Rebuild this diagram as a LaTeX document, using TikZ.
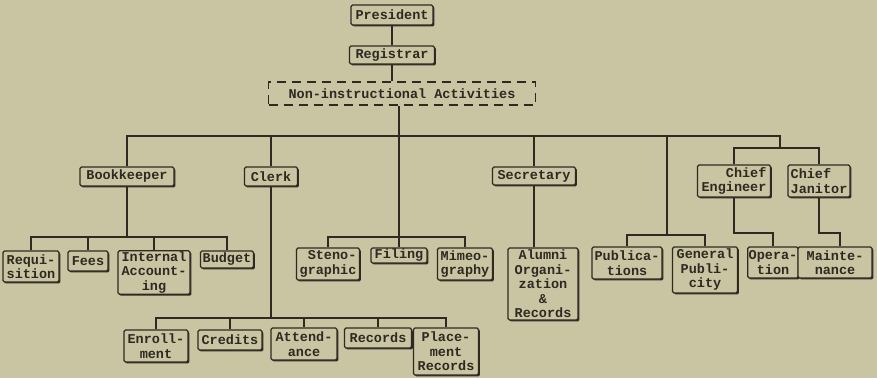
\documentclass[tikz,border=0pt]{standalone}
\usepackage{fontspec}
\setmainfont{Liberation Mono}
\usepackage{tikz}
\usepackage{xcolor}
\usetikzlibrary{shadows}
\definecolor{paper}{RGB}{201,196,162}
\definecolor{ink}{RGB}{46,42,34}

\begin{document}
\begin{tikzpicture}[x=1pt,y=-1pt,
		line width=2pt, draw=ink, text=ink,
		font=\bfseries\fontsize{13.5}{14.5}\selectfont,
		box/.style={draw=ink, line width=1.2pt, fill=paper, rounded corners=1.5pt, inner sep=1pt, align=center,
			drop shadow={shadow xshift=1.4pt, shadow yshift=-1.4pt, fill=ink, opacity=1}},
		dashbox/.style={draw=ink, line width=1.2pt, dash pattern=on 9pt off 6pt, inner sep=1pt}]
		\fill[paper] (0,0) rectangle (877,378);
		\useasboundingbox (0,0) rectangle (877,378);
		\coordinate (mainbus) at (0,136);
		\coordinate (chiefbus) at (0,148);
		\coordinate (opbus) at (0,233);
		\coordinate (pubbus) at (0,235);
		\coordinate (bkbus) at (0,237);
		\coordinate (stenobus) at (0,237);
		\coordinate (clerkbus) at (0,318);
		\coordinate (pubtop) at (667,136);
		\coordinate (chieftop) at (780,136);

		\node[box, minimum width=82pt, minimum height=20pt] (pres) at (392,15) {President};
		\node[box, minimum width=85pt, minimum height=18pt] (reg) at (392,55) {Registrar};
		\node[dashbox, minimum width=267pt, minimum height=23pt] (nonin) at (402,93.5) {Non-instructional Activities};

		\node[box, minimum width=94pt, minimum height=19pt] (bk) at (127,176.5) {Bookkeeper};
		\node[box, minimum width=53pt, minimum height=19pt] (clerk) at (271,176.5) {Clerk};
		\node[box, minimum width=83pt, minimum height=18pt] (sec) at (534,176) {Secretary};
		\node[box, minimum width=73pt, minimum height=32pt, align=right] (eng) at (734,181) {Chief\\Engineer};
		\node[box, minimum width=62pt, minimum height=32pt, align=left] (jan) at (819,181) {Chief\\Janitor};

		\node[box, minimum width=56pt, minimum height=31pt] (req) at (31,266.5) {Requi-\\sition};
		\node[box, minimum width=40pt, minimum height=20pt] (fees) at (88,261) {Fees};
		\node[box, minimum width=72pt, minimum height=43pt] (intacc) at (154,272.5) {Internal\\Account-\\ing};
		\node[box, minimum width=53pt, minimum height=17pt] (budget) at (227,259.5) {Budget};

		\node[box, minimum width=63pt, minimum height=32pt, align=right] (steno) at (328,264) {Steno-\\graphic};
		\node[box, minimum width=56pt, minimum height=15pt] (filing) at (399,255.5) {Filing};
		\node[box, minimum width=55pt, minimum height=32pt] (mimeo) at (465,264) {Mimeo-\\graphy};
		\node[box, minimum width=70pt, minimum height=72pt] (alumni) at (543,284) {Alumni\\Organi-\\zation\\\&\\Records};
		\node[box, minimum width=70pt, minimum height=32pt] (pub) at (627,263) {Publica-\\tions};
		\node[box, minimum width=65pt, minimum height=46pt] (gen) at (705,270) {General\\Publi-\\city};
		\node[box, minimum width=50pt, minimum height=31pt] (oper) at (773,262.5) {Opera-\\tion};
		\node[box, minimum width=74pt, minimum height=31pt] (maint) at (835,262.5) {Mainte-\\nance};

		\node[box, minimum width=64pt, minimum height=32pt] (enr) at (156,346) {Enroll-\\ment};
		\node[box, minimum width=64pt, minimum height=20pt] (cred) at (230,340) {Credits};
		\node[box, minimum width=66pt, minimum height=32pt] (att) at (304,344) {Attend-\\ance};
		\node[box, minimum width=67pt, minimum height=20pt] (rec) at (378,338) {Records};
		\node[box, minimum width=65pt, minimum height=47pt] (place) at (446,351.5) {Place-\\ment\\Records};

		\draw (pres) -- (reg);
		\draw (reg.south) -- (reg.south |- nonin.north);
		\draw (nonin.south -| filing.north) -- (filing.north);

		\draw (bk.north) |- (chieftop) -- (chieftop |- chiefbus);
		\draw (clerk.north) -- (clerk.north |- mainbus);
		\draw (sec.north) -- (sec.north |- mainbus);
		\draw (pubtop) -- (pubtop |- pubbus);
		\draw (eng.north) |- (jan.north |- chiefbus) -- (jan.north);

		\draw (bk.south) -- (bk.south |- bkbus);
		\draw (req.north) |- (budget.north |- bkbus) -- (budget.north);
		\draw (fees.north) -- (fees.north |- bkbus);
		\draw (intacc.north) -- (intacc.north |- bkbus);

		\draw (clerk.south) -- (clerk.south |- clerkbus);
		\draw (enr.north) |- (place.north |- clerkbus) -- (place.north);
		\draw (cred.north) -- (cred.north |- clerkbus);
		\draw (att.north) -- (att.north |- clerkbus);
		\draw (rec.north) -- (rec.north |- clerkbus);

		\draw (steno.north) |- (mimeo.north |- stenobus) -- (mimeo.north);
		\draw (sec.south) -- (sec.south |- alumni.north);
		\draw (pub.north) |- (gen.north |- pubbus) -- (gen.north);

		\draw (eng.south) |- (oper.north |- opbus) -- (oper.north);
		\draw (jan.south) |- ([xshift=5pt]maint.north |- opbus) -- ([xshift=5pt]maint.north);
	\end{tikzpicture}
\end{document}
